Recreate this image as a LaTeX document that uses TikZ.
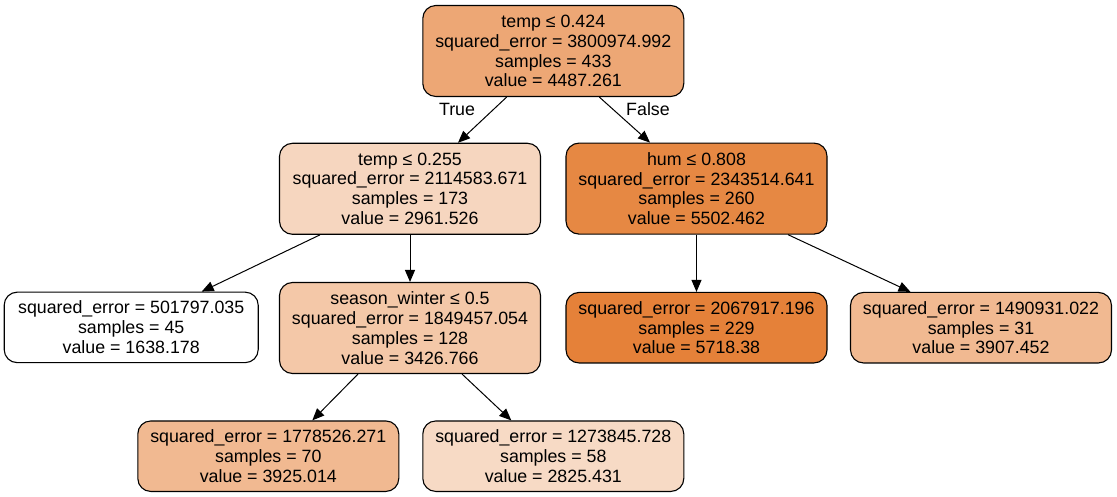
\documentclass[tikz,border=0pt]{standalone}
\usepackage{fontspec}
\setmainfont{Liberation Sans}
\usetikzlibrary{arrows.meta,calc}
\definecolor{cRoot}{HTML}{EDA775}
\definecolor{cTa}{HTML}{F6D6BF}
\definecolor{cHum}{HTML}{E68843}
\definecolor{cSea}{HTML}{F4C8A8}
\definecolor{cMax}{HTML}{E58139}
\definecolor{cMid}{HTML}{F1B991}
\definecolor{cLow}{HTML}{F7DAC5}
\tikzset{
  tree/.style={draw=black, line width=1.1pt, rounded corners=13pt, align=center,
    inner sep=0pt, minimum width=261pt,
    font=\fontsize{17.8pt}{19.9pt}\selectfont},
  split/.style={tree, minimum height=91pt},
  leaf/.style={tree, minimum height=70.5pt},
  edge/.style={line width=1pt, -{Triangle[length=12pt,width=10pt]}},
  elabel/.style={font=\fontsize{17.8pt}{19.9pt}\selectfont, inner sep=0pt}
}
\begin{document}
\begin{tikzpicture}[x=1pt,y=-1pt]
\useasboundingbox (0,0) rectangle (1117,497);
\node[split, fill=cRoot] (root) at (553.3,51)
  {temp ≤ 0.424\\squared\_error = 3800974.992\\samples = 433\\value = 4487.261};
\node[split, fill=cTa] (ta) at (410,188.8)
  {temp ≤ 0.255\\squared\_error = 2114583.671\\samples = 173\\value = 2961.526};
\node[split, fill=cHum] (hum) at (696.5,188.6)
  {hum ≤ 0.808\\squared\_error = 2343514.641\\samples = 260\\value = 5502.462};
\node[leaf, fill=white, minimum width=254pt] (l45) at (131.2,327.4)
  {squared\_error = 501797.035\\samples = 45\\value = 1638.178};
\node[split, fill=cSea] (sea) at (410,328)
  {season\_winter ≤ 0.5\\squared\_error = 1849457.054\\samples = 128\\value = 3426.766};
\node[leaf, fill=cMax] (l229) at (696.5,327.7)
  {squared\_error = 2067917.196\\samples = 229\\value = 5718.38};
\node[leaf, fill=cMid] (l31) at (981,327.7)
  {squared\_error = 1490931.022\\samples = 31\\value = 3907.452};
\node[leaf, fill=cMid] (l70) at (268.3,456.2)
  {squared\_error = 1778526.271\\samples = 70\\value = 3925.014};
\node[leaf, fill=cLow] (l58) at (553.3,456.2)
  {squared\_error = 1273845.728\\samples = 58\\value = 2825.431};

\draw[edge] ($(root.south)+(-46.6,0)$) -- ($(ta.north)+(48,0)$);
\draw[edge] ($(root.south)+(46,0)$) -- ($(hum.north)+(-46.5,0)$);
\draw[edge] ($(ta.south)+(-90,0)$) -- ($(l45.north)+(70.5,0)$);
\draw[edge] (ta.south) -- (sea.north);
\draw[edge] (hum.south) -- (l229.north);
\draw[edge] ($(hum.south)+(91.5,0)$) -- ($(l31.north)+(-70.5,0)$);
\draw[edge] ($(sea.south)+(-52,0)$) -- ($(l70.north)+(44,0)$);
\draw[edge] ($(sea.south)+(52,0)$) -- ($(l58.north)+(-42,0)$);

\node[elabel] (ltrue) at (457,109) {True};
\node[elabel] (lfalse) at (648,109) {False};
\end{tikzpicture}
\end{document}
